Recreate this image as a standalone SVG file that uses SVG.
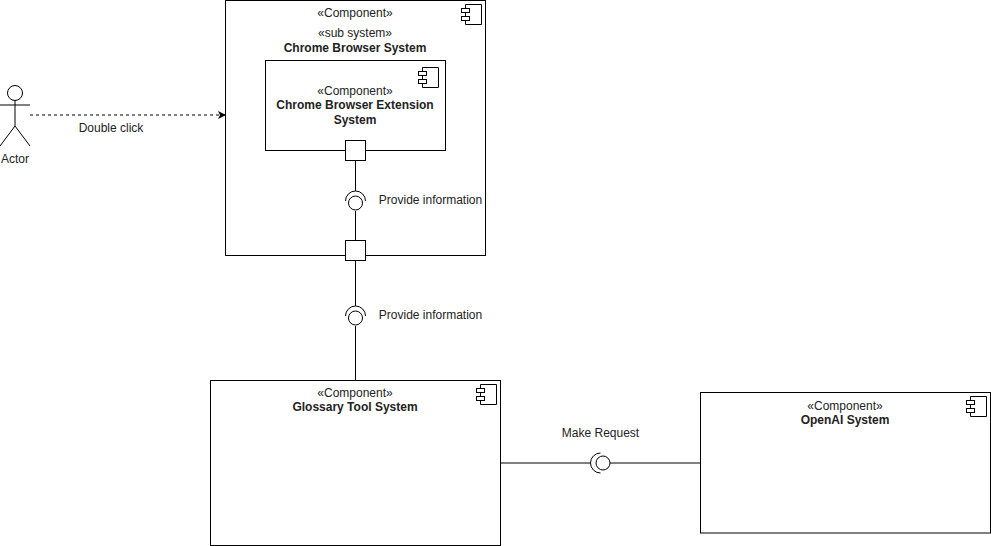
<svg xmlns="http://www.w3.org/2000/svg" width="991" height="546" viewBox="0 0 991 546">
<style>
text{font-family:"Liberation Sans",Arial,sans-serif;font-size:12px;fill:#222;text-anchor:middle}
.b{font-weight:bold}
.s{fill:#fff;stroke:#000;stroke-width:1}
.l{fill:none;stroke:#000;stroke-width:1}
.n{fill:none;stroke:#000;stroke-width:1}
</style>
<defs>
<g id="icon"><path class="s" d="M4 0H20V20H4Z"/><rect class="s" x="0" y="4" width="8" height="4"/><rect class="s" x="0" y="12" width="8" height="4"/></g>
<marker id="arrow" markerWidth="9" markerHeight="9" refX="8" refY="4.500" orient="auto" markerUnits="userSpaceOnUse"><path d="M0 0.500L8 4.500L0 8.500L2 4.500Z" fill="#000"/></marker>
</defs>
<rect width="991" height="546" fill="#fff"/>
<g id="browser"><rect class="s" x="225.500" y="0.500" width="260" height="255"/><use href="#icon" x="461.500" y="4.500"/>
<text x="355" y="17">«Component»</text><text x="355" y="37">«sub system»</text><text class="b" x="355" y="52">Chrome Browser System</text></g>
<g id="extension"><rect class="s" x="265.500" y="60.500" width="180" height="90"/><use href="#icon" x="418.500" y="67.500"/>
<text x="355" y="95">«Component»</text><text class="b" x="355" y="109">Chrome Browser Extension</text><text class="b" x="355" y="124">System</text></g>
<g id="glossary"><rect class="s" x="210.500" y="380.500" width="290" height="165"/><use href="#icon" x="476.500" y="384.500"/>
<text x="355" y="397">«Component»</text><text class="b" x="355" y="411">Glossary Tool System</text></g>
<g id="openai"><rect class="s" x="700.500" y="392.500" width="290" height="140.500"/><use href="#icon" x="966.500" y="396.500"/>
<text x="845" y="410">«Component»</text><text class="b" x="845" y="424">OpenAI System</text></g>
<g id="actor"><circle class="n" cx="15" cy="93" r="7.500"/><path class="n" d="M15 100.500V126M0 105H30M15 126L0 146M15 126L30 146"/><text x="15" y="163">Actor</text></g>
<g id="connectors">
<path class="l" stroke-dasharray="3 3" d="M30 115H226" marker-end="url(#arrow)"/>
<path class="l" d="M355.500 160V191M355.500 211V240M355.500 260V306M355.500 326V380M500 463H590M610 463H700"/>
<path class="n" d="M345.500 201A10 10 0 0 1 365.500 201M345.500 316A10 10 0 0 1 365.500 316M600.500 473A10 10 0 0 1 600.500 453"/>
<circle class="s" cx="355.500" cy="203" r="7"/><circle class="s" cx="355.500" cy="318" r="7"/><circle class="s" cx="603" cy="463" r="7"/>
</g>
<g id="port-top"><rect class="s" x="345.500" y="140.500" width="20" height="20"/></g>
<g id="port-bottom"><rect class="s" x="345.500" y="240.500" width="20" height="20"/></g>
<g id="labels">
<text x="111" y="132">Double click</text><text x="430.500" y="204">Provide information</text><text x="430.500" y="319">Provide information</text><text x="600.500" y="437">Make Request</text>
</g>
</svg>
